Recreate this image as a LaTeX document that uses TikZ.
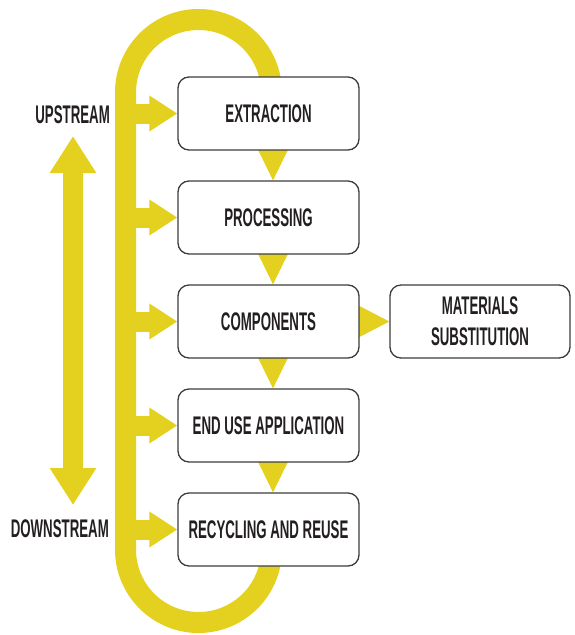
\documentclass[tikz,border=0pt]{standalone}
\usepackage{fontspec}
\usetikzlibrary{arrows.meta,backgrounds}
\newfontfamily\cond[FakeStretch=0.52]{Liberation Sans}
\definecolor{yel}{HTML}{E4D01E}
\definecolor{ink}{HTML}{231F20}
\definecolor{edge}{HTML}{3C3C3C}
\begin{document}
\begin{tikzpicture}[x=1pt,y=-1pt,
  stage/.style={draw=edge, line width=1.3pt, rounded corners=11pt, fill=white,
    minimum width=181pt, minimum height=73pt, inner sep=0pt, align=center,
    text=ink, font=\cond\bfseries\fontsize{25.5}{31}\selectfont},
  lbl/.style={text=ink, inner sep=0pt, anchor=east, font=\cond\bfseries\fontsize{25.5}{31}\selectfont},
  feed/.style={draw=yel, line width=20pt, -{Triangle[width=34pt,length=28pt]}},
  band/.style={draw=yel, line width=21pt},
  tri/.style={fill=yel},
  dbl/.style={draw=yel, line width=20pt, {Triangle[width=44pt,length=37pt]}-{Triangle[width=44pt,length=37pt]}}
]
\useasboundingbox (0,0) rectangle (574,635);
% loop band
\draw[band] (271.5,92.5) arc[start angle=0, end angle=-180, radius=73]
  -- (125.5,549.5) arc[start angle=180, end angle=0, radius=73];
% coordinates
\coordinate (ex) at (125.5,113.5);
\coordinate (px) at (125.5,217.5);
\coordinate (cx) at (125.5,321.5);
\coordinate (ux) at (125.5,425.5);
\coordinate (rx) at (125.5,529.5);
\coordinate (up) at (73,136);
\coordinate (dn) at (73,505);
% nodes
\node[stage] (e) at (268.5,113.5) {EXTRACTION};
\node[stage] (p) at (268.5,217.5) {PROCESSING};
\node[stage] (c) at (268.5,321.5) {COMPONENTS};
\node[stage] (u) at (268.5,425.5) {END USE APPLICATION};
\node[stage] (r) at (268.5,529.5) {RECYCLING AND REUSE};
\node[stage, minimum width=180pt] (m) at (480,321.5) {MATERIALS\\SUBSTITUTION};
\node[lbl] (ul) at (110,115) {UPSTREAM};
\node[lbl] (dl) at (109,529) {DOWNSTREAM};
% double arrow
\draw[dbl] (up) -- (dn);
\begin{pgfonlayer}{background}
  \draw[feed] (ex) -- (e.west);
  \draw[feed] (px) -- (p.west);
  \draw[feed] (cx) -- (c.west);
  \draw[feed] (ux) -- (u.west);
  \draw[feed] (rx) -- (r.west);
  \fill[tri] ([xshift=-12.5pt,yshift=5pt]e.south) -- ([xshift=21.5pt,yshift=5pt]e.south) -- ([xshift=4.5pt]p.north) -- cycle;
  \fill[tri] ([xshift=-12.5pt,yshift=5pt]p.south) -- ([xshift=21.5pt,yshift=5pt]p.south) -- ([xshift=4.5pt]c.north) -- cycle;
  \fill[tri] ([xshift=-12.5pt,yshift=5pt]c.south) -- ([xshift=21.5pt,yshift=5pt]c.south) -- ([xshift=4.5pt]u.north) -- cycle;
  \fill[tri] ([xshift=-12.5pt,yshift=5pt]u.south) -- ([xshift=21.5pt,yshift=5pt]u.south) -- ([xshift=4.5pt]r.north) -- cycle;
  \fill[tri] ([xshift=-4pt,yshift=-17.5pt]c.east) -- ([xshift=-4pt,yshift=17.5pt]c.east) -- (m.west) -- cycle;
\end{pgfonlayer}
\end{tikzpicture}
\end{document}
